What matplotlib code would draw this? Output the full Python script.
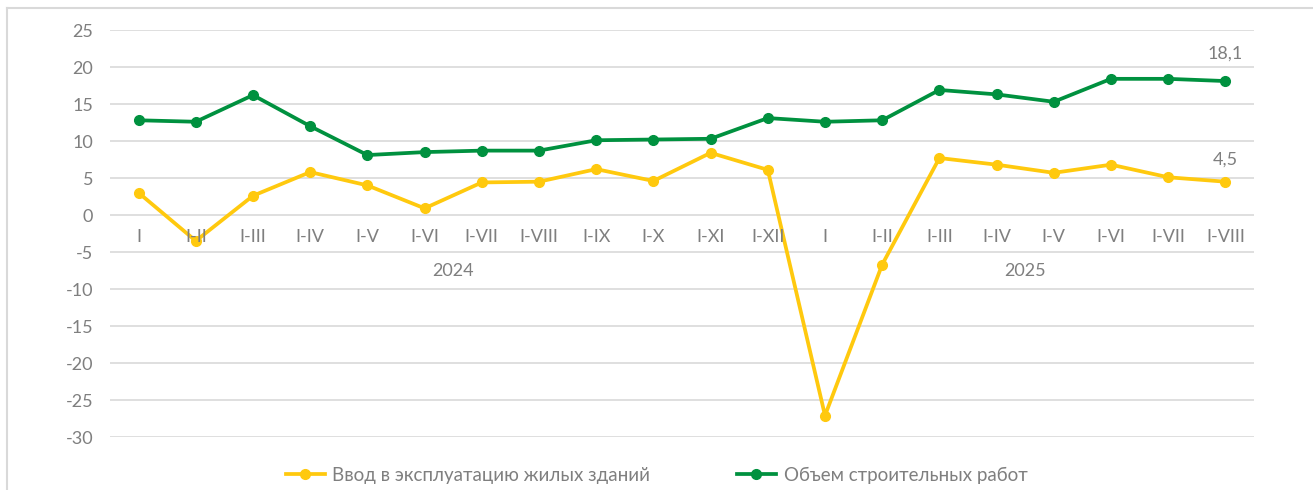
import numpy as np
import matplotlib.pyplot as plt
from matplotlib.lines import Line2D

# data
periods = ["I", "I-II", "I-III", "I-IV", "I-V", "I-VI", "I-VII", "I-VIII", "I-IX", "I-X", "I-XI", "I-XII",
           "I", "I-II", "I-III", "I-IV", "I-V", "I-VI", "I-VII", "I-VIII"]
years = ["2024", "2025"]
year_center = [5.5, 15.5]
housing = [3.0, -3.5, 2.6, 5.8, 4.0, 0.9, 4.4, 4.5, 6.2, 4.6, 8.4, 6.1,
           -27.1, -6.7, 7.7, 6.8, 5.7, 6.8, 5.1, 4.5]
construction = [12.8, 12.6, 16.2, 12.0, 8.1, 8.5, 8.7, 8.7, 10.1, 10.2, 10.3, 13.1,
                12.6, 12.8, 16.9, 16.3, 15.3, 18.4, 18.4, 18.1]
name_housing = "Ввод в эксплуатацию жилых зданий"
name_constr = "Объем строительных работ"

YELLOW = "#FFC90E"
GREEN = "#00913F"
GRAY = "#7F7F7F"
GRID = "#D9D9D9"

plt.rcParams['font.family'] = ['Lato', 'DejaVu Sans']
plt.rcParams['axes.unicode_minus'] = False

W, H = 1313, 490
fig = plt.figure(figsize=(W / 100, H / 100), dpi=100)
ax = fig.add_axes([110 / W, 1 - 437 / H, (1254 - 110) / W, (437 - 30) / H])

x = np.arange(len(periods))
ax.plot(x, housing, color=YELLOW, lw=2.7, marker='o', ms=7, label=name_housing, zorder=3)
ax.plot(x, construction, color=GREEN, lw=2.7, marker='o', ms=7, label=name_constr, zorder=3)

ax.set_xlim(-0.5, len(periods) - 0.5)
ax.set_ylim(-30, 25)
ax.set_yticks(np.arange(-30, 26, 5))
ax.yaxis.grid(True, color=GRID, lw=1.2)
ax.set_axisbelow(True)
ax.set_xticks([])
ax.tick_params(axis='y', length=0, pad=12, labelsize=13, labelcolor=GRAY)
for s in ax.spines.values():
    s.set_visible(False)

# category labels sit just below the zero line
for i, p in enumerate(periods):
    ax.text(i, -3.0, p, ha='center', va='center', fontsize=13, color=GRAY)
for c, y in zip(year_center, years):
    ax.text(c, -7.5, y, ha='center', va='center', fontsize=13, color=GRAY)

# last-point labels
last = len(periods) - 1
ax.annotate(f"{construction[last]:.1f}".replace('.', ','), (last, construction[last]),
            xytext=(0, 14), textcoords='offset points', ha='center', va='bottom',
            fontsize=13, color=GRAY)
ax.annotate(f"{housing[last]:.1f}".replace('.', ','), (last, housing[last]),
            xytext=(0, 10), textcoords='offset points', ha='center', va='bottom',
            fontsize=13, color=GRAY)

fig.legend(loc='center', bbox_to_anchor=(0.5, 1 - 475 / H), ncol=2, frameon=False,
           fontsize=13.5, labelcolor=GRAY, handlelength=2.1, handletextpad=0.4,
           columnspacing=4.6)

# outer chart frame (cut on the right and bottom)
fig.add_artist(Line2D([7 / W, 1], [1 - 8 / H, 1 - 8 / H], color=GRID, lw=1.5))
fig.add_artist(Line2D([7 / W, 7 / W], [0, 1 - 8 / H], color=GRID, lw=1.5))

fig.savefig("out.png", dpi=100)
